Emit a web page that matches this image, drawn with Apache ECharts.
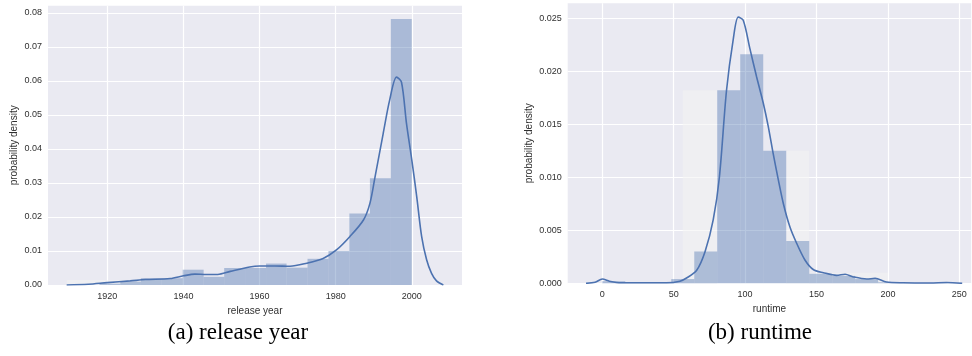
<!DOCTYPE html>
<html>
<head>
<meta charset="utf-8">
<script src="https://cdn.jsdelivr.net/npm/echarts@6/dist/echarts.min.js"></script>
<style>
  html, body { margin: 0; padding: 0; background: #ffffff; }
  #chart { width: 972px; height: 356px; }
</style>
</head>
<body>
<div id="chart"></div>
<script>
// ---- release year panel ----
const yearBinEdges = [1917.9, 1923.4, 1928.8, 1934.3, 1939.8, 1945.3, 1950.7, 1956.2,
                      1961.7, 1967.1, 1972.6, 1978.1, 1983.6, 1989.0, 1994.5, 2000.0];
const yearDensity = [0.0004, 0.0010, 0.0020, 0.0020, 0.0045, 0.0024, 0.0050, 0.0050,
                     0.0063, 0.0051, 0.0077, 0.0100, 0.0210, 0.0314, 0.0782];
const yearKde = [
  [1909.3, 0], [1915, 0.0002], [1920, 0.0007], [1926, 0.0012], [1930, 0.0016],
  [1936.5, 0.0019], [1940, 0.0027], [1943, 0.0032], [1946, 0.0031], [1949, 0.0031],
  [1952.3, 0.0040], [1957.4, 0.0053], [1960, 0.0056], [1964, 0.0056], [1968, 0.0055],
  [1972.4, 0.0064], [1976.7, 0.0078], [1980.2, 0.0103], [1983.7, 0.0142], [1987.3, 0.0191],
  [1989, 0.0240], [1990.3, 0.0315], [1992.5, 0.0446], [1994.2, 0.0544], [1996, 0.0611],
  [1997.3, 0.0596], [1998.6, 0.0476], [2000, 0.0368], [2001.3, 0.0260], [2002.6, 0.0142],
  [2003.9, 0.0074], [2005.2, 0.0034], [2006.5, 0.0012], [2008.3, 0]
];
const yearPale = [[1909.3, 1939.8, 0.0015]];
const yearTicks = [1920, 1940, 1960, 1980, 2000];
const yearDensityTicks = [0, 0.01, 0.02, 0.03, 0.04, 0.05, 0.06, 0.07, 0.08];

// ---- runtime panel ----
const runBinEdges = [0, 16.1, 32.2, 48.3, 64.4, 80.5, 96.6, 112.7, 128.8, 144.9,
                     161.0, 177.1, 193.2, 209.3, 225.4, 241.5];
const runDensity = [0.0002, 0.0001, 0.0001, 0.0004, 0.0030, 0.0182, 0.0216, 0.0125,
                    0.0040, 0.0009, 0.0007, 0.0004, 0.0001, 0.00005, 0.00005];
const runKde = [
  [-11.4, 0], [-5, 0.0001], [0, 0.0004], [5, 0.0002], [10, 0.00008], [20, 0.00005],
  [31, 0.00005], [45, 0.00005], [54.4, 0.0002], [59, 0.0005], [66, 0.0012], [72, 0.0030],
  [77.7, 0.0060], [82, 0.0100], [87, 0.0182], [91.7, 0.0230], [95.2, 0.0251], [98.7, 0.0248],
  [103.4, 0.0221], [108, 0.0195], [112.7, 0.0170], [116.2, 0.0148], [119.7, 0.0122],
  [123.2, 0.0098], [126.8, 0.0075], [131.4, 0.0053], [136, 0.0038], [141.9, 0.0022],
  [147.7, 0.0013], [154.8, 0.0010], [164.1, 0.00075], [170, 0.00085], [175.8, 0.0006],
  [185.2, 0.0004], [191, 0.00047], [199, 0.00012], [210.7, 0.00005], [229.5, 0.00003],
  [241, 0.00007], [252, 0]
];
const runPale = [[56.3, 80.5, 0.0182], [128.8, 144.9, 0.0125], [144.9, 200, 0.0010]];
const runTicks = [0, 50, 100, 150, 200, 250];
const runDensityTicks = [0, 0.005, 0.010, 0.015, 0.020, 0.025];

const captions = ['(a) release year', '(b) runtime'];

const BLUE = '#4c72b0';
const BAR_FILL = 'rgba(76,114,176,0.4)';
const PALE_FILL = 'rgba(242,242,242,0.55)';
const BG = '#eaeaf2';
const SANS = '"Liberation Sans", Arial, sans-serif';
const TEXT = '#303030';

function toBins(edges, heights) {
  return heights.map((h, i) => [edges[i], edges[i + 1], h]);
}

function rectItem(fill) {
  return function (params, api) {
    const x0 = api.value(0), x1 = api.value(1), h = api.value(2);
    const p0 = api.coord([x0, h]);
    const p1 = api.coord([x1, 0]);
    return {
      type: 'rect',
      shape: { x: p0[0], y: p0[1], width: p1[0] - p0[0], height: p1[1] - p0[1] },
      style: { fill: fill, stroke: null }
    };
  };
}

function xAxisCfg(idx, min, max, ticks, name) {
  return {
    type: 'value', gridIndex: idx, min: min, max: max,
    name: name, nameLocation: 'middle', nameGap: 18,
    nameTextStyle: { fontFamily: SANS, fontSize: 10, color: TEXT },
    axisLine: { show: false },
    axisTick: { show: false, customValues: ticks },
    axisLabel: {
      customValues: ticks, fontFamily: SANS, fontSize: 9, color: TEXT, margin: 7,
      formatter: v => String(v)
    },
    splitLine: { show: true, lineStyle: { color: '#ffffff', width: 1.2 } }
  };
}

function yAxisCfg(idx, max, ticks, digits, gap) {
  return {
    type: 'value', gridIndex: idx, min: 0, max: max,
    name: 'probability density', nameLocation: 'middle', nameGap: gap, nameRotate: 90,
    nameTextStyle: { fontFamily: SANS, fontSize: 10, color: TEXT },
    axisLine: { show: false },
    axisTick: { show: false, customValues: ticks },
    axisLabel: {
      customValues: ticks, fontFamily: SANS, fontSize: 9, color: TEXT, margin: 6,
      formatter: v => Number(v).toFixed(digits)
    },
    splitLine: { show: true, lineStyle: { color: '#ffffff', width: 1.2 } }
  };
}

const chart = echarts.init(document.getElementById('chart'), null, { renderer: 'canvas' });

chart.setOption({
  animation: false,
  backgroundColor: '#ffffff',
  grid: [
    { left: 48, top: 5.7, width: 414, height: 279.3, show: true, backgroundColor: BG, borderWidth: 0 },
    { left: 567.7, top: 3.3, width: 403.5, height: 280, show: true, backgroundColor: BG, borderWidth: 0 }
  ],
  xAxis: [
    xAxisCfg(0, 1904.4, 2013.2, yearTicks, 'release year'),
    xAxisCfg(1, -24.2, 258.3, runTicks, 'runtime')
  ],
  yAxis: [
    yAxisCfg(0, 0.0821, yearDensityTicks, 2, 29),
    yAxisCfg(1, 0.0264, runDensityTicks, 3, 33)
  ],
  series: [
    {
      type: 'custom', xAxisIndex: 0, yAxisIndex: 0, renderItem: rectItem(PALE_FILL),
      encode: { x: [0, 1], y: 2 }, data: yearPale, silent: true, z: 1
    },
    {
      type: 'custom', xAxisIndex: 0, yAxisIndex: 0, renderItem: rectItem(BAR_FILL),
      encode: { x: [0, 1], y: 2 }, data: toBins(yearBinEdges, yearDensity), silent: true, z: 2
    },
    {
      type: 'line', xAxisIndex: 0, yAxisIndex: 0, data: yearKde, smooth: 0.3,
      showSymbol: false, silent: true, z: 3,
      lineStyle: { color: BLUE, width: 1.6 }
    },
    {
      type: 'custom', xAxisIndex: 1, yAxisIndex: 1, renderItem: rectItem(PALE_FILL),
      encode: { x: [0, 1], y: 2 }, data: runPale, silent: true, z: 1
    },
    {
      type: 'custom', xAxisIndex: 1, yAxisIndex: 1, renderItem: rectItem(BAR_FILL),
      encode: { x: [0, 1], y: 2 }, data: toBins(runBinEdges, runDensity), silent: true, z: 2
    },
    {
      type: 'line', xAxisIndex: 1, yAxisIndex: 1, data: runKde, smooth: 0.3,
      showSymbol: false, silent: true, z: 3,
      lineStyle: { color: BLUE, width: 1.6 }
    }
  ],
  graphic: [
    {
      type: 'text', x: 238, y: 333,
      style: {
        text: captions[0], fill: '#000000', align: 'center', verticalAlign: 'middle',
        font: '23px "Liberation Serif", "Times New Roman", serif'
      }
    },
    {
      type: 'text', x: 760, y: 333,
      style: {
        text: captions[1], fill: '#000000', align: 'center', verticalAlign: 'middle',
        font: '23px "Liberation Serif", "Times New Roman", serif'
      }
    }
  ]
});
</script>
</body>
</html>
